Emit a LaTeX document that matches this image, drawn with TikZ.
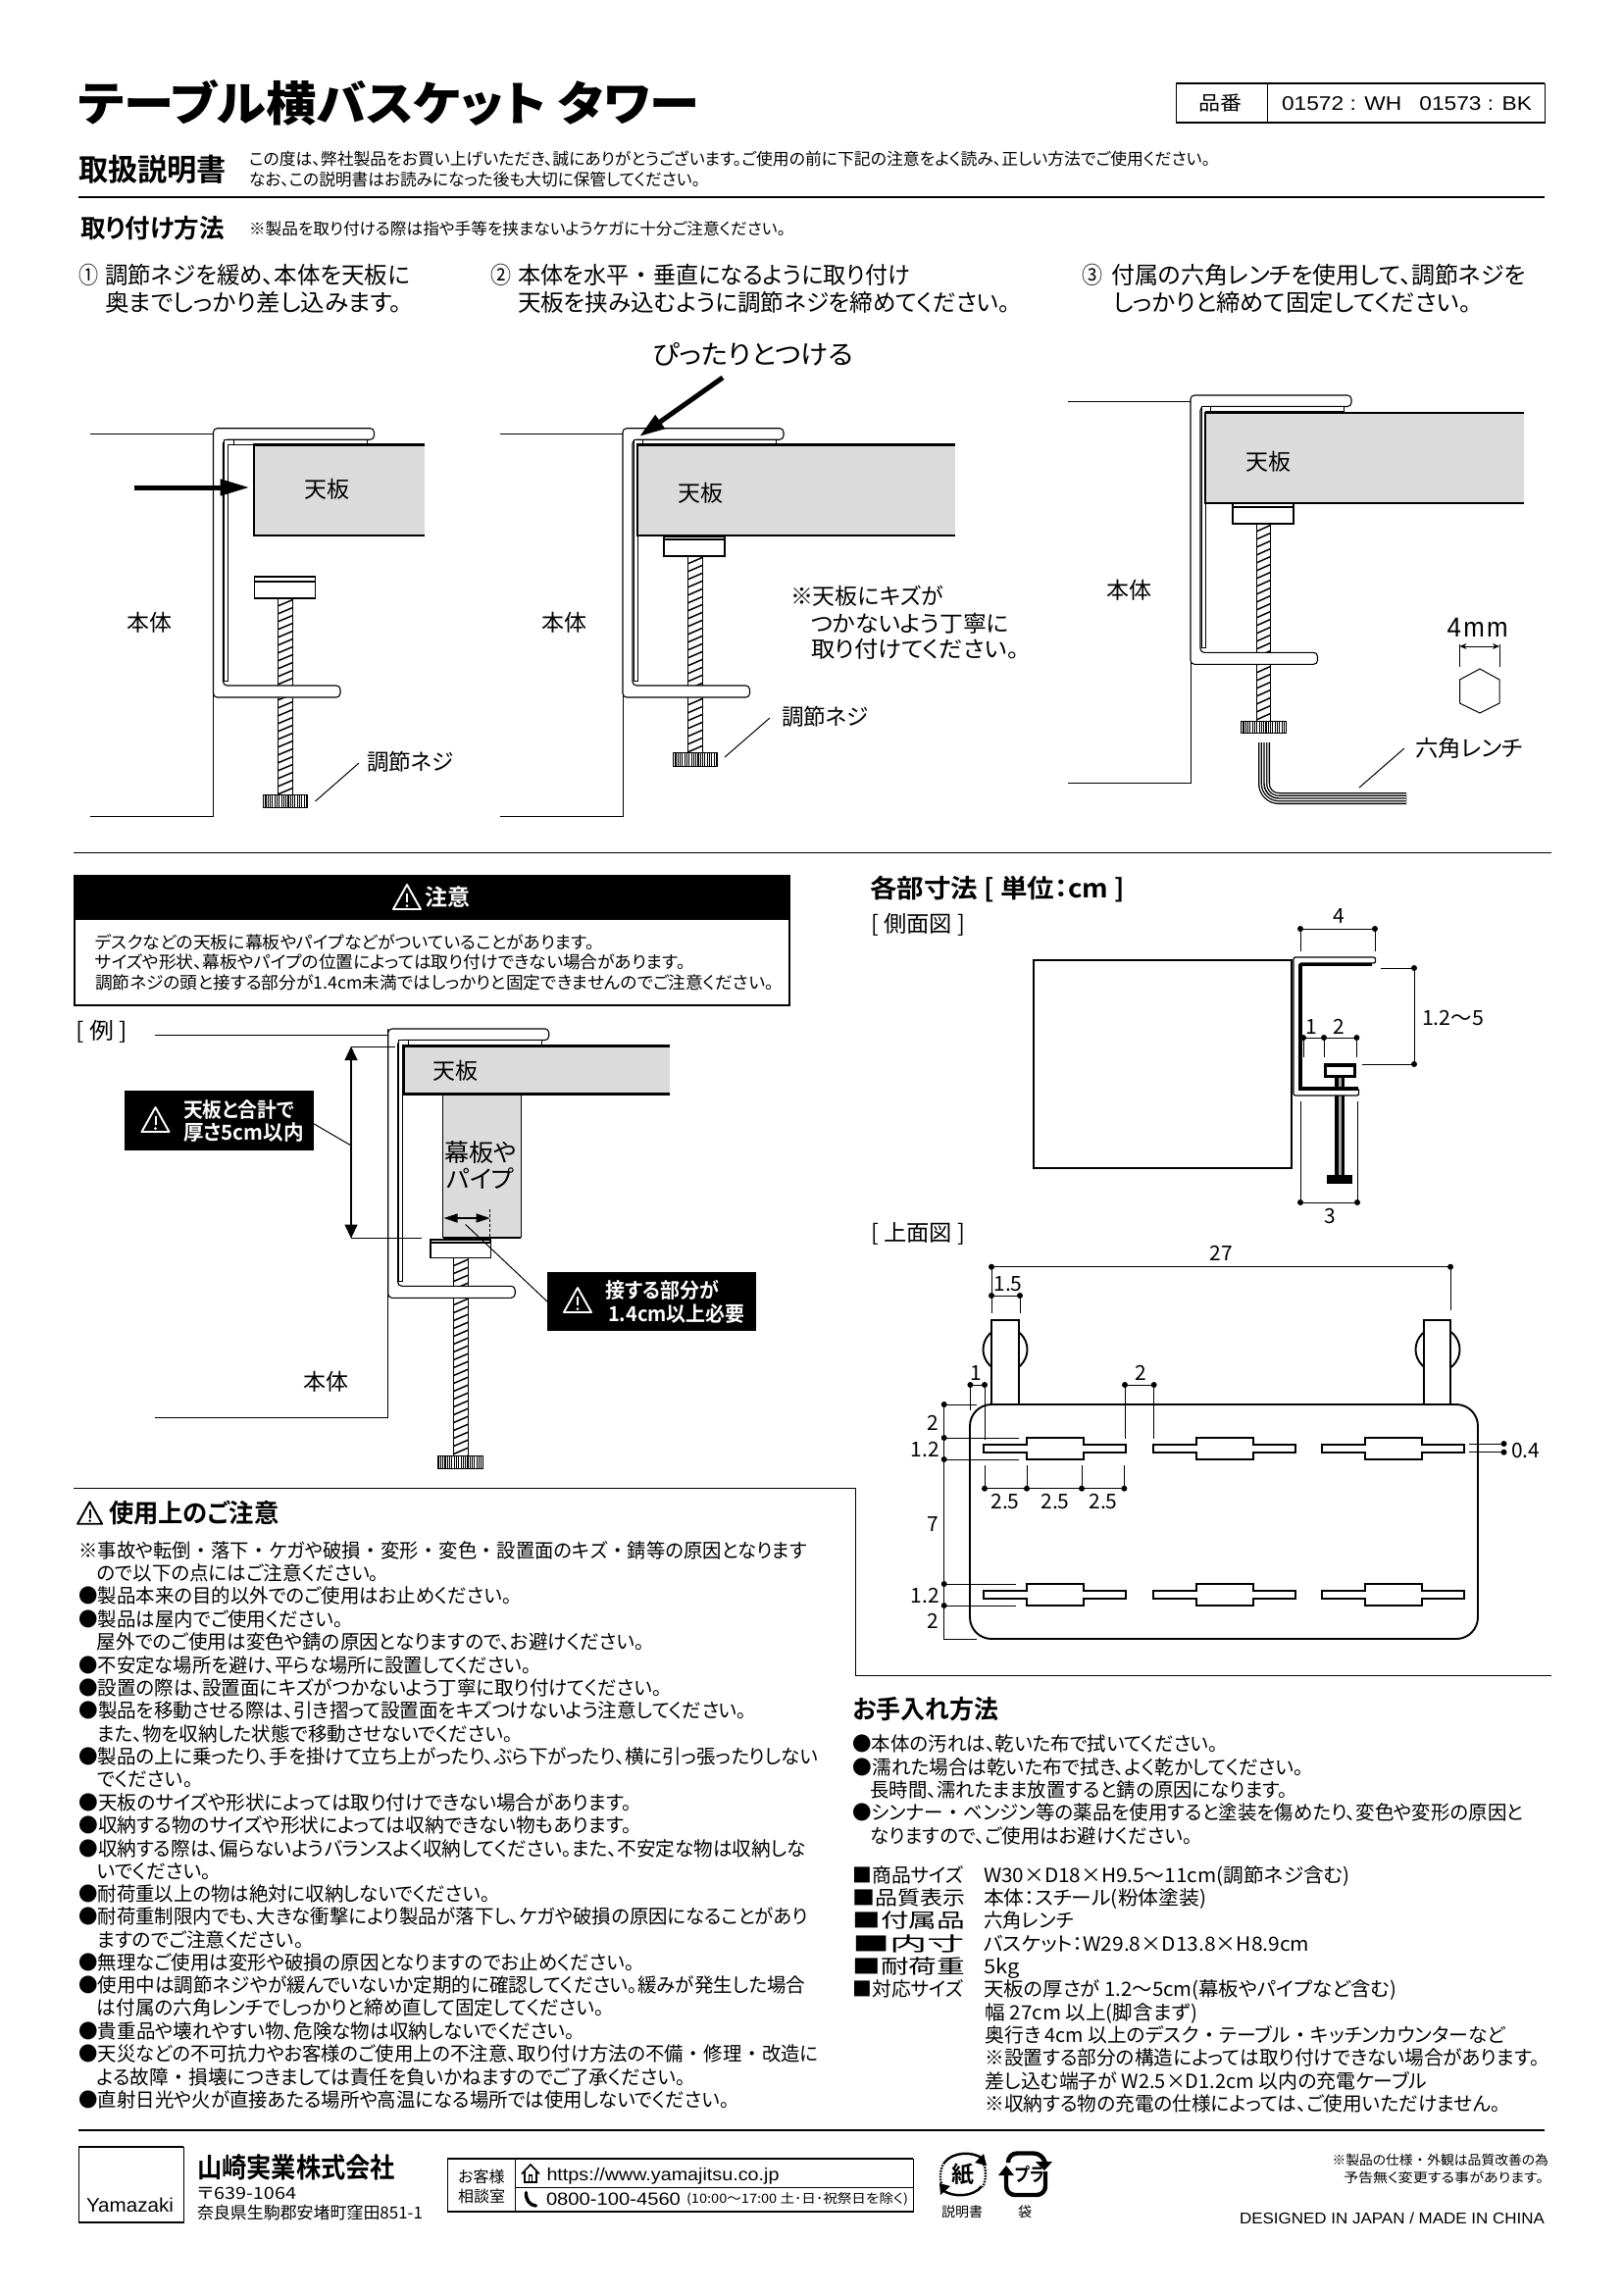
\documentclass[tikz,border=0pt]{standalone}
\usepackage{fontspec}
\usepackage{graphicx}
\usetikzlibrary{arrows.meta,calc}
\setmainfont{Noto Sans CJK JP}[RawFeature=+palt]
\newfontfamily\jpr{Noto Sans CJK JP}[RawFeature=+palt]
\newfontfamily\jpb{Noto Sans CJK JP Bold}[RawFeature=+palt]
\newfontfamily\jpk{Noto Sans CJK JP Black}[RawFeature=+palt]
\newfontfamily\lib{Liberation Sans}
\newcommand\fR[1]{\jpr\fontsize{#1}{#1}\selectfont}
\newcommand\fB[1]{\jpb\fontsize{#1}{#1}\selectfont}
\newcommand\fK[1]{\jpk\fontsize{#1}{#1}\selectfont}
\newcommand\fL[1]{\lib\fontsize{#1}{#1}\selectfont}
\newsavebox\tbx
\newcounter{tn}
% fitted line: font, x1, x2, y centre, text
\newcommand\TX[5]{%
  \stepcounter{tn}%
  \node[txt,anchor=west] (t\thetn) at ({#2},{#4}) {%
    \sbox\tbx{#1\rule[-.12em]{0pt}{1em}\smash{#5}}%
    \pgfmathsetmacro\myrx{((#3)-(#2))/\the\wd\tbx}%
    \scalebox{\myrx}[1]{\usebox\tbx}};}
% centred label: font, cx, y, text
\newcommand\CX[4]{%
  \stepcounter{tn}%
  \node[txt] (t\thetn) at ({#2},{#3}) {#1\rule[-.12em]{0pt}{1em}\smash{#4}};}
\newcommand\nk{\hspace{.28em}・\hspace{.28em}}
% clamp: wall x, top y
\newcommand\clampA[2]{%
  \begin{scope}[shift={(#1,#2)}]
  \draw[part,rounded corners=4] (164,0)--(0,0)--(0,274.3)--(129.5,274.3)--(129.5,262.3)--(10,262.3)--(10,11.5)--(164,11.5)--cycle;
  \draw[thinpart,fill=white] (11,11.5)--(11,257.3)--(15,257.3)--(15,16.5)--(156.5,16.5)--(156.5,11.5)--cycle;
  \draw[thinpart] (20.5,11.5)--(20.5,16.5);
  \end{scope}}
\newcommand\screw[4]{%
  \begin{scope}
  \clip (#1,#3) rectangle (#2,#4);
  \fill[white] (#1,#3) rectangle (#2,#4);
  \pgfmathsetmacro\sya{#3}\pgfmathsetmacro\syb{#3+8}\pgfmathsetmacro\syc{#4+8}%
  \foreach \yy in {\sya,\syb,...,\syc} \draw[line width=1.5] (#1,\yy)--(#2,\yy-6.5);
  \end{scope}
  \draw[line width=1] (#1,#3)--(#1,#4) (#2,#3)--(#2,#4);}
\newcommand\knob[4]{%
  \fill[white] (#1,#3) rectangle (#2,#4);
  \pgfmathsetmacro\kxa{#1+.7}\pgfmathsetmacro\kxb{#1+3}\pgfmathsetmacro\kxc{#2}%
  \foreach \xx in {\kxa,\kxb,...,\kxc} \draw[line width=1.15] (\xx,#3)--(\xx,#4);
  \draw[line width=1] (#1,#3) rectangle (#2,#4);}
\newcommand\shead[5]{%
  \draw[part] (#1,#3) rectangle (#2,#4);
  \draw[line width=1.1] (#1,#5)--(#2,#5);}
\newcommand\tabl[4]{%
  \fill[tablegray] (#1,#3) rectangle (#2,#4);
  \draw[line width=2.6] (#2,#3)--(#1,#3)--(#1,#4)--(#2,#4);}
% warning triangle: cx, cy, width, colour
\newcommand\warn[4]{%
  \begin{scope}[shift={(#1,#2)},scale=#3/29]
  \draw[#4,line width=1.9,line join=round] (0,-13)--(14,12)--(-14,12)--cycle;
  \draw[#4,line width=2] (0,-4.5)--(0,5);
  \fill[#4] (0,8.5) circle (1.5);
  \end{scope}}
\newcommand\dt[2]{\fill (#1,#2) circle (3);}
\newcommand\slot[2]{% x of thin left, y centre
  \draw[slotline] (#1,#2-4.2)--(#1+43.8,#2-4.2)--(#1+43.8,#2-11.4)--(#1+102,#2-11.4)--(#1+102,#2-4.2)--(#1+145,#2-4.2)--(#1+145,#2+4.2)--(#1+102,#2+4.2)--(#1+102,#2+11.4)--(#1+43.8,#2+11.4)--(#1+43.8,#2+4.2)--(#1,#2+4.2)--cycle;}
\tikzset{
  txt/.style={inner sep=0pt,outer sep=0pt,text=black},
  part/.style={draw=black,fill=white,line width=1.1},
  thinpart/.style={draw=black,line width=.9},
  thinl/.style={draw=black,line width=1},
  dimn/.style={draw=black,line width=.9},
  slotline/.style={draw=black,fill=white,line width=1.9},
  rule/.style={draw=black,line width=2.6},
  tablegray/.style={fill=gray!28}
}
\newcommand\ZL[4]{\TX{\fR{20}}{60+#1/1.96}{60+#3/1.96}{1520+#2/2.376}{#4}}
\newcommand\ZM[4]{\TX{\fR{20}}{860+#1/2.119}{860+#3/2.119}{1720+#2/3}{#4}}
\begin{document}
\begin{tikzpicture}[x=1pt,y=-1pt]
\useasboundingbox (0,0) rectangle (1655,2340);
\fill[white] (0,0) rectangle (1655,2340);
%------- header
\TX{\fK{48}}{80}{713}{105}{テーブル横バスケット タワー}
\draw[line width=.9] (1199,85) rectangle (1575,125);
\draw[line width=1.6] (1199,85)--(1575,85) (1199,125)--(1575,125);
\draw[line width=.9] (1292,85)--(1292,125);
\TX{\fR{20}}{1222}{1266}{105}{品番}
\TX{\fL{20}}{1307}{1562}{105}{01572 : WH\hspace{.8em}01573 : BK}
\TX{\fB{31}}{80}{231}{173}{取扱説明書}
\TX{\fR{17}}{254}{1234}{162}{この度は、弊社製品をお買い上げいただき、誠にありがとうございます。ご使用の前に下記の注意をよく読み、正しい方法でご使用ください。}
\TX{\fR{17}}{254}{714}{183}{なお、この説明書はお読みになった後も大切に保管してください。}
\draw[rule] (80,201)--(1575,201);
\TX{\fB{26}}{82}{229}{233}{取り付け方法}
\TX{\fR{16.5}}{254}{801}{233}{※製品を取り付ける際は指や手等を挟まないようケガに十分ご注意ください。}
\TX{\fR{24}}{80}{100}{280}{①}
\TX{\fR{24}}{107}{418}{280}{調節ネジを緩め、本体を天板に}
\TX{\fR{24}}{107}{410}{308}{奥までしっかり差し込みます。}
\TX{\fR{24}}{500}{521}{280}{②}
\TX{\fR{24}}{528}{928}{280}{本体を水平\nk 垂直になるように取り付け}
\TX{\fR{24}}{528}{1030}{308}{天板を挟み込むように調節ネジを締めてください。}
\TX{\fR{24}}{1103}{1124}{280}{③}
\TX{\fR{24}}{1133}{1556}{280}{付属の六角レンチを使用して、調節ネジを}
\TX{\fR{24}}{1135}{1500}{308}{しっかりと締めて固定してください。}
%------- figure 1
\draw[thinl] (92,442)--(217.5,442)--(217.5,832)--(92,832);
\screw{283}{298.5}{610}{810}
\clampA{217.5}{436.7}
\tabl{259}{433}{453.3}{546}
\shead{259.6}{321.5}{588}{610}{593}
\knob{268}{313}{810.7}{823}
\draw[line width=5,-{Triangle[length=30pt,width=16pt]}] (136.5,497)--(254.5,497);
\CX{\fR{23}}{333}{499}{天板}
\CX{\fR{23}}{152.5}{635}{本体}
\TX{\fR{23}}{374}{463}{777}{調節ネジ}
\draw[thinl] (366,778)--(321.5,817);
%------- figure 2
\draw[thinl] (510,442)--(635,442)--(635,832)--(510,832);
\screw{701}{716}{567}{767}
\clampA{635}{436.7}
\tabl{650}{974}{453.3}{546}
\shead{677}{739}{547}{567}{550}
\knob{686}{731}{767}{781}
\draw[line width=5,-{Triangle[length=26pt,width=16pt]}] (737,385)--(652,445);
\TX{\fR{27}}{665}{870}{361}{ぴったりとつける}
\CX{\fR{23}}{714}{503}{天板}
\CX{\fR{23}}{575}{635}{本体}
\TX{\fR{23}}{806}{962}{608}{※天板にキズが}
\TX{\fR{23}}{827}{1029}{636}{つかないよう丁寧に}
\TX{\fR{23}}{827}{1039}{662}{取り付けてください。}
\TX{\fR{23}}{797}{886}{731}{調節ネジ}
\draw[thinl] (785,732)--(739,772);
%------- figure 3
\draw[thinl] (1089,409)--(1214,409)--(1214,798)--(1089,798);
\screw{1281}{1295.5}{534}{735}
\clampA{1214}{403}
\tabl{1229}{1554}{421}{513}
\shead{1257}{1319}{513}{534}{517}
\knob{1265}{1311}{735}{747}
\CX{\fR{23}}{1293}{471}{天板}
\CX{\fR{23}}{1151}{602}{本体}
\foreach \lw/\co in {12/black,9.4/white,6.6/black,4/white,1.4/black}
  \draw[\co,line width=\lw,rounded corners=15] (1289,757)--(1289,814)--(1434,814);
\TX{\fR{23}}{1443}{1553}{763}{六角レンチ}
\draw[thinl] (1432,763)--(1386,803);
\TX{\fL{28}}{1475.5}{1537.6}{639}{4\hspace{.1em}m\hspace{.08em}m}
\draw[thinl,{Stealth[length=7pt,width=6pt]}-{Stealth[length=7pt,width=6pt]}] (1488.5,659)--(1529,659);
\draw[thinl] (1488.5,657)--(1488.5,680) (1529,657)--(1529,680);
\draw[thinl] (1509,682)--(1529,693)--(1529,717)--(1509,727)--(1488.5,717)--(1488.5,693)--cycle;
\draw[line width=1] (75,869)--(1582,869);
%------- caution box
\fill[black] (75,892.4) rectangle (806,937);
\draw[line width=2,fill=white] (76,937) rectangle (805,1025);
\warn{415}{915}{29}{white}
\stepcounter{tn}\node[txt,text=white] (t\thetn) at (456,915) {\fB{23}注意};
\TX{\fR{17.5}}{97}{606}{961}{デスクなどの天板に幕板やパイプなどがついていることがあります。}
\TX{\fR{17.5}}{97}{699}{981}{サイズや形状、幕板やパイプの位置によっては取り付けできない場合があります。}
\TX{\fR{17.5}}{97}{789}{1001.6}{調節ネジの頭と接する部分が1.4cm未満ではしっかりと固定できませんのでご注意ください。}
\TX{\fR{23}}{77}{130}{1051}{[ 例 ]}
%------- example figure
\draw[thinl] (158,1055.5)--(395.7,1055.5) (395.7,1049)--(395.7,1445)--(158,1445);
\screw{462.6}{477.7}{1282.5}{1484}
\clampA{395.7}{1049}
\fill[tablegray] (451.5,1116.5) rectangle (531,1262);
\draw[line width=.9] (451.5,1116.5)--(451.5,1262) (531,1116.5)--(531,1262);
\draw[line width=1.4] (451.5,1262)--(531,1262);
\tabl{412}{683}{1066.7}{1115.7}
\shead{439}{500.7}{1264}{1282.5}{1267}
\knob{446.4}{492}{1484.6}{1497}
\CX{\fR{23}}{464}{1092}{天板}
\CX{\fR{25}}{490}{1175}{幕板や}
\CX{\fR{25}}{490}{1201.6}{パイプ}
\CX{\fR{23}}{332}{1409}{本体}
\draw[line width=1.1,{Triangle[length=14pt,width=13pt]}-{Triangle[length=14pt,width=13pt]}] (358,1067)--(358,1262.6);
\draw[thinl] (358,1067)--(403,1067) (358,1262)--(430,1262);
\draw[line width=1.1,{Triangle[length=14pt,width=9pt]}-{Triangle[length=14pt,width=9pt]}] (452.5,1242)--(499.6,1242);
\draw[line width=.8,dash pattern=on 3pt off 2pt] (499.6,1232.7)--(499.6,1266);
\fill[black] (127,1112) rectangle (319.6,1172.5);
\warn{158.5}{1142}{29}{white}
\stepcounter{tn}\node[txt,anchor=west,text=white] (t\thetn) at (187,1131.5) {\scalebox{.94}[1]{\fB{21}天板と合計で}};
\stepcounter{tn}\node[txt,anchor=west,text=white] (t\thetn) at (187,1154.7) {\scalebox{.98}[1]{\fB{21}厚さ5cm以内}};
\draw[thinl] (319.6,1145.6)--(358,1168);
\draw[thinl] (474.7,1248.5)--(558,1327);
\fill[black] (558,1297) rectangle (771,1357);
\warn{589}{1326}{29}{white}
\stepcounter{tn}\node[txt,anchor=west,text=white] (t\thetn) at (617.7,1315.7) {\scalebox{.95}[1]{\fB{21}接する部分が}};
\stepcounter{tn}\node[txt,anchor=west,text=white] (t\thetn) at (620,1340) {\scalebox{.95}[1]{\fB{21}1.4cm以上必要}};
%------- dimensions: side view
\TX{\fB{26}}{887}{1147}{906}{各部寸法 [ 単位：cm ]}
\TX{\fR{23}}{888}{984}{942}{[ 側面図 ]}
\draw[line width=2] (1054,979) rectangle (1317,1191);
\fill[black] (1361,1097) rectangle (1371,1198);
\fill[gray!70] (1364.5,1097) rectangle (1367.5,1198);
\draw[line width=1.2,fill=white,rounded corners=2] (1402.6,976)--(1319,976)--(1319,1117)--(1385.6,1117)--(1385.6,1110)--(1325,1110)--(1325,982)--(1402.6,982)--cycle;
\draw[line width=3.6] (1326,983.5)--(1399,983.5);
\draw[line width=3.6] (1326,983)--(1326,1110)--(1385,1110);
\draw[line width=3,fill=white] (1351.5,1085.5) rectangle (1381.5,1097);
\fill[black] (1350,1084) rectangle (1382.5,1088);
\fill[black] (1353,1198) rectangle (1379,1207);
\draw[dimn] (1326,947)--(1402,947) (1326,947)--(1326,970) (1402,947)--(1402,970);
\dt{1326}{947}\dt{1402}{947}
\CX{\fR{21}}{1365.5}{934}{4}
\draw[dimn] (1408,987)--(1442,987)--(1442,1085)--(1389,1085);
\dt{1442}{987}\dt{1442}{1085}
\TX{\fR{21}}{1450}{1513}{1038}{1.2～5}
\draw[dimn] (1329,1058)--(1383.4,1058) (1329,1058)--(1329,1078) (1350,1058)--(1350,1078) (1383.4,1058)--(1383.4,1078);
\dt{1329}{1058}\dt{1350}{1058}\dt{1383.4}{1058}
\CX{\fR{21}}{1337}{1047}{1}
\CX{\fR{21}}{1365.5}{1047}{2}
\draw[dimn] (1326,1123)--(1326,1226)--(1384,1226)--(1384,1123);
\dt{1326}{1226}\dt{1384}{1226}
\CX{\fR{21}}{1356}{1240}{3}
%------- dimensions: top view
\TX{\fR{23}}{888}{984}{1257}{[ 上面図 ]}
\draw[line width=1.9] (1025,1376) circle (22.5) (1466,1376) circle (22.5);
\draw[line width=1.9,fill=white] (1011.4,1432)--(1011.4,1346)--(1039,1346)--(1039,1432);
\draw[line width=1.9,fill=white] (1452,1432)--(1452,1346)--(1479,1346)--(1479,1432);
\draw[line width=1.9,rounded corners=22] (989,1432) rectangle (1507,1671);
\foreach \sx in {1003,1176,1348.4} \foreach \sy in {1477,1626} {\slot{\sx}{\sy}}
\draw[dimn] (1011,1291.7)--(1479,1291.7) (1011,1291.7)--(1011,1339) (1479,1291.7)--(1479,1335.7);
\dt{1011}{1291.7}\dt{1479}{1291.7}
\CX{\fR{21}}{1245.6}{1277.7}{27}
\draw[dimn] (1011,1321)--(1040,1321)--(1040,1339);
\dt{1011}{1321}\dt{1040}{1321}
\CX{\fR{21}}{1028}{1309}{1.5}
\draw[dimn] (989.4,1438)--(989.4,1412)--(1004,1412)--(1004,1468);
\dt{989.4}{1412}\dt{1004}{1412}
\CX{\fR{21}}{995}{1400}{1}
\draw[dimn] (1147,1466.7)--(1147,1412)--(1176.7,1412)--(1176.7,1466.7);
\dt{1147}{1412}\dt{1176.7}{1412}
\CX{\fR{21}}{1163}{1400}{2}
\draw[dimn] (996,1432)--(962.7,1432)--(962.7,1671)--(996,1671);
\draw[dimn] (962.7,1466)--(1038.5,1466) (962.7,1488)--(1038.5,1488) (962.7,1615)--(1036,1615) (962.7,1637)--(1036,1637);
\dt{962.7}{1432}\dt{962.7}{1466}\dt{962.7}{1488}\dt{962.7}{1615}\dt{962.7}{1637}
\CX{\fR{21}}{951.7}{1450.7}{2}
\CX{\fR{21}}{943.5}{1477.7}{1.2}
\CX{\fR{21}}{951.7}{1553}{7}
\CX{\fR{21}}{943.5}{1626.7}{1.2}
\CX{\fR{21}}{951.7}{1652.7}{2}
\draw[dimn] (1004,1494)--(1004,1517.7)--(1146.4,1517.7)--(1146.4,1494) (1047,1494)--(1047,1517.7) (1103,1494)--(1103,1517.7);
\dt{1004}{1517.7}\dt{1047}{1517.7}\dt{1103}{1517.7}\dt{1146.4}{1517.7}
\CX{\fR{21}}{1025}{1530}{2.5}
\CX{\fR{21}}{1076}{1530}{2.5}
\CX{\fR{21}}{1125}{1530}{2.5}
\draw[dimn] (1498,1472)--(1533.5,1472) (1498,1480.7)--(1533.5,1480.7);
\dt{1533.5}{1472}\dt{1533.5}{1480.7}
\TX{\fR{21}}{1541}{1570}{1478.7}{0.4}
%------- dividing lines
\draw[line width=1] (75,1517)--(872,1517)--(872,1708)--(1582,1708);
%------- notes left
\warn{91.6}{1543}{26}{black}
\TX{\fB{26}}{111}{284.5}{1543}{使用上のご注意}
\ZL{40}{145}{1495}{※事故や転倒\nk 落下\nk ケガや破損\nk 変形\nk 変色\nk 設置面のキズ\nk 錆等の原因となります}
\ZL{76}{200}{640}{ので以下の点にはご注意ください。}
\ZL{40}{255}{905}{●製品本来の目的以外でのご使用はお止めください。}
\ZL{40}{310}{568}{●製品は屋内でご使用ください。}
\ZL{76}{366}{1170}{屋外でのご使用は変色や錆の原因となりますので、お避けください。}
\ZL{40}{422}{945}{●不安定な場所を避け、平らな場所に設置してください。}
\ZL{40}{478}{1205}{●設置の際は、設置面にキズがつかないよう丁寧に取り付けてください。}
\ZL{40}{533}{1375}{●製品を移動させる際は、引き摺って設置面をキズつけないよう注意してください。}
\ZL{76}{588}{908}{また、物を収納した状態で移動させないでください。}
\ZL{40}{644}{1518}{●製品の上に乗ったり、手を掛けて立ち上がったり、ぶら下がったり、横に引っ張ったりしない}
\ZL{76}{698}{268}{でください。}
\ZL{40}{755}{1145}{●天板のサイズや形状によっては取り付けできない場合があります。}
\ZL{40}{810}{1145}{●収納する物のサイズや形状によっては収納できない物もあります。}
\ZL{40}{866}{1493}{●収納する際は、偏らないようバランスよく収納してください。また、不安定な物は収納しな}
\ZL{76}{921}{305}{いでください。}
\ZL{40}{976}{862}{●耐荷重以上の物は絶対に収納しないでください。}
\ZL{40}{1032}{1497}{●耐荷重制限内でも、大きな衝撃により製品が落下し、ケガや破損の原因になることがあり}
\ZL{76}{1087}{490}{ますのでご注意ください。}
\ZL{40}{1142}{1150}{●無理なご使用は変形や破損の原因となりますのでお止めください。}
\ZL{40}{1198}{1492}{●使用中は調節ネジやが緩んでいないか定期的に確認してください。緩みが発生した場合}
\ZL{76}{1253}{1090}{は付属の六角レンチでしっかりと締め直して固定してください。}
\ZL{40}{1308}{1032}{●貴重品や壊れやすい物、危険な物は収納しないでください。}
\ZL{40}{1363}{1518}{●天災などの不可抗力やお客様のご使用上の不注意、取り付け方法の不備\nk 修理\nk 改造に}
\ZL{76}{1420}{1253}{よる故障\nk 損壊につきましては責任を負いかねますのでご了承ください。}
\ZL{40}{1475}{1340}{●直射日光や火が直接あたる場所や高温になる場所では使用しないでください。}
%------- notes right
\TX{\fB{26}}{869.4}{1018}{1743}{お手入れ方法}
\ZM{20}{175}{810}{●本体の汚れは、乾いた布で拭いてください。}
\ZM{20}{247}{995}{●濡れた場合は乾いた布で拭き、よく乾かしてください。}
\ZM{58}{315}{960}{長時間、濡れたまま放置すると錆の原因になります。}
\ZM{20}{385}{1470}{●シンナー\nk ベンジン等の薬品を使用すると塗装を傷めたり、変色や変形の原因と}
\ZM{58}{457}{755}{なりますので、ご使用はお避けください。}
\ZM{20}{575}{260}{■商品サイズ}
\ZM{20}{645}{263}{■品\hfill 質\hfill 表\hfill 示}
\ZM{20}{715}{263}{■付\hfill 属\hfill 品}
\ZM{20}{785}{263}{■内\hfill 寸}
\ZM{20}{855}{263}{■耐\hfill 荷\hfill 重}
\ZM{20}{925}{260}{■対応サイズ}
\ZM{303}{575}{1095}{W30×D18×H9.5～11cm(調節ネジ含む)}
\ZM{303}{645}{785}{本体：スチール(粉体塗装)}
\ZM{303}{715}{497}{六角レンチ}
\ZM{303}{785}{1007}{バスケット：W29.8×D13.8×H8.9cm}
\ZM{303}{855}{380}{5kg}
\ZM{303}{925}{1195}{天板の厚さが 1.2～5cm(幕板やパイプなど含む)}
\ZM{306}{995}{765}{幅 27cm 以上(脚含まず)}
\ZM{306}{1065}{1430}{奥行き 4cm 以上のデスク\nk テーブル\nk キッチンカウンターなど}
\ZM{306}{1135}{1505}{※設置する部分の構造によっては取り付けできない場合があります。}
\ZM{306}{1205}{1262}{差し込む端子が W2.5×D1.2cm 以内の充電ケーブル}
\ZM{306}{1275}{1420}{※収納する物の充電の仕様によっては、ご使用いただけません。}
%------- footer
\draw[rule] (80,2172)--(1575,2172);
\draw[line width=.8] (80,2189) rectangle (187,2266);
\draw[line width=1.8] (80,2189)--(187,2189) (80,2266)--(187,2266);
\TX{\fL{20}}{88}{177}{2248}{Yamazaki}
\TX{\fB{28}}{201}{403}{2210}{山崎実業株式会社}
\TX{\fR{17}}{201}{302}{2236}{〒639-1064}
\TX{\fR{17}}{201}{431}{2256}{奈良県生駒郡安堵町窪田851-1}
\draw[line width=.8] (456,2201) rectangle (931,2255);
\draw[line width=1.2] (456,2201)--(931,2201) (456,2255)--(931,2255);
\draw[line width=.8] (525,2201)--(525,2255) (525,2230)--(931,2230);
\CX{\fR{16}}{491}{2219}{お客様}
\CX{\fR{16}}{491}{2239}{相談室}
% house
\draw[line width=1.6,line join=miter] (532,2216.5)--(541,2207)--(550,2216.5);
\draw[line width=1.5] (535,2214)--(535,2225)--(547,2225)--(547,2214) (539.5,2225)--(539.5,2218)--(542.5,2218)--(542.5,2225);
% phone
\draw[line width=3.4,line cap=round] (536.5,2235.5) .. controls (536,2243) and (540,2248.5) .. (546.5,2249);
\TX{\fL{18}}{557.5}{794.5}{2217}{https://www.yamajitsu.co.jp}
\TX{\fL{18}}{557}{694}{2242}{0800-100-4560}
\TX{\fR{13}}{700}{926}{2242}{(10:00～17:00 土･日･祝祭日を除く)}
% paper mark
\draw[line width=2.4] (963,2205) .. controls (971,2194) and (992,2193) .. (1002,2201);
\draw[line width=2.4] (1001,2229) .. controls (993,2240) and (972,2241) .. (961,2233);
\fill (1003,2196)--(1006,2208)--(994,2205)--cycle;
\fill (959,2238)--(958,2226)--(969,2229)--cycle;
\draw[line width=2.4,dash pattern=on 1.6pt off 1.3pt] (963,2205) .. controls (958,2212) and (958,2222) .. (961,2230);
\draw[line width=2.4,dash pattern=on 1.6pt off 1.3pt] (1002,2204) .. controls (1006,2212) and (1006,2222) .. (1002,2230);
\CX{\fB{23}}{982}{2217}{紙}
% plastic mark
\draw[line width=4.4,rounded corners=9] (1028,2205)--(1028,2195.5)--(1063,2195.5)--(1066,2206);
\draw[line width=4.4,rounded corners=9] (1026,2217)--(1026,2238)--(1066,2238)--(1066,2214);
\fill (1056,2204)--(1073,2204)--(1065,2213)--cycle;
\fill (1018,2218)--(1034,2218)--(1026,2208)--cycle;
\CX{\fB{19}}{1050}{2217}{\scalebox{.85}[1]{プラ}}
\CX{\fR{14}}{981}{2255}{説明書}
\CX{\fR{14}}{1045}{2255}{袋}
\TX{\fR{13.5}}{1358.5}{1579}{2202}{※製品の仕様\nk 外観は品質改善の為}
\TX{\fR{13.5}}{1370}{1574}{2220}{予告無く変更する事があります。}
\TX{\fL{16}}{1264}{1575}{2261}{DESIGNED IN JAPAN / MADE IN CHINA}
\end{tikzpicture}
\end{document}
